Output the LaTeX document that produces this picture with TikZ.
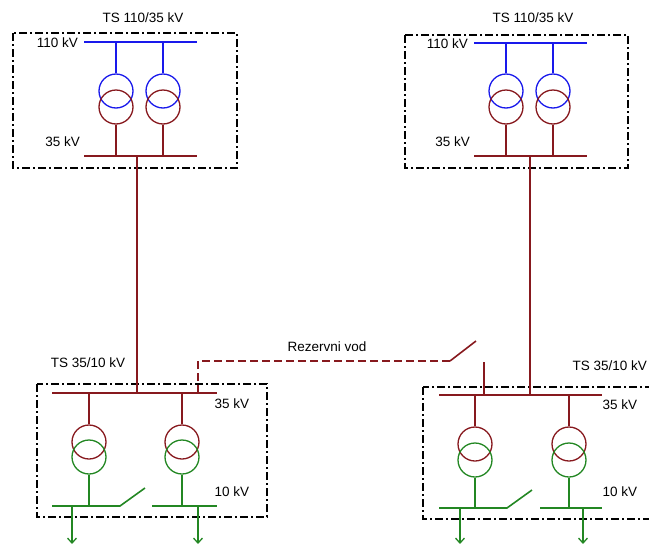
\documentclass[tikz,border=0pt]{standalone}
\usepackage{fontspec}
\setmainfont{Liberation Sans}
\usetikzlibrary{arrows.meta}
\definecolor{hvblue}{RGB}{25,25,235}
\definecolor{mvred}{RGB}{135,25,30}
\definecolor{lvgreen}{RGB}{35,135,35}
\begin{document}
\begin{tikzpicture}[x=1pt,y=-1pt,
  box/.style={draw=black,line width=1.3pt,dash pattern=on 8pt off 3pt on 2pt off 3pt},
  hv/.style={draw=hvblue,line width=1.6pt},
  mv/.style={draw=mvred,line width=1.6pt},
  lv/.style={draw=lvgreen,line width=1.6pt},
  wind/.style={circle,line width=1.3pt,minimum size=34pt,inner sep=0pt},
  lbl/.style={font=\fontsize{13.5}{13.5}\selectfont,inner sep=0pt},
  feeder/.style={lv,-{Straight Barb[length=5pt,width=9pt,line width=1.3pt]}},
  reserve/.style={mv,dash pattern=on 8pt off 4pt}]
\useasboundingbox (0,0) rectangle (649,544);

% ---------- TS 110/35 kV left ----------
\draw[box] (13,33) rectangle (237,168);
\node[lbl] (tA) at (143,18) {TS 110/35 kV};
\coordinate (AhL) at (84,42); \coordinate (AhR) at (197,42);
\coordinate (AmL) at (84,156); \coordinate (AmR) at (197,156);
\draw[hv] (AhL) -- (AhR);
\draw[mv] (AmL) -- (AmR);
\node[lbl,anchor=east] (lA110) at (78,43) {110 kV};
\node[lbl,anchor=east] (lA35) at (80,142) {35 kV};
\foreach \n/\x in {A1/116,A2/163}{
  \node[wind,draw=hvblue] (\n u) at (\x,91) {};
  \node[wind,draw=mvred] (\n d) at (\x,107) {};
  \draw[hv] (\n u.north |- AhL) -- (\n u.north);
  \draw[mv] (\n d.south) -- (\n d.south |- AmL);
}

% ---------- TS 110/35 kV right ----------
\draw[box] (405,35) rectangle (628,168);
\node[lbl] (tB) at (533,18) {TS 110/35 kV};
\coordinate (BhL) at (474,43); \coordinate (BhR) at (587,43);
\coordinate (BmL) at (474,156); \coordinate (BmR) at (587,156);
\draw[hv] (BhL) -- (BhR);
\draw[mv] (BmL) -- (BmR);
\node[lbl,anchor=east] (lB110) at (468,44) {110 kV};
\node[lbl,anchor=east] (lB35) at (470,142) {35 kV};
\foreach \n/\x in {B1/506,B2/553}{
  \node[wind,draw=hvblue] (\n u) at (\x,91) {};
  \node[wind,draw=mvred] (\n d) at (\x,107) {};
  \draw[hv] (\n u.north |- BhL) -- (\n u.north);
  \draw[mv] (\n d.south) -- (\n d.south |- BmL);
}

% ---------- TS 35/10 kV left ----------
\draw[box] (37,384) rectangle (267,517);
\node[lbl] (tC) at (88,363) {TS 35/10 kV};
\coordinate (CmL) at (52,393); \coordinate (CmR) at (217,393);
\draw[mv] (CmL) -- (CmR);
\coordinate (ClL) at (52,506); \coordinate (ClS) at (120,506);
\coordinate (ClK) at (145,488);
\coordinate (ClM) at (152,506); \coordinate (ClR) at (217,506);
\draw[lv] (ClL) -- (ClS) -- (ClK);
\draw[lv] (ClM) -- (ClR);
\node[lbl] (lC35) at (232,404) {35 kV};
\node[lbl] (lC10) at (232,492) {10 kV};
\foreach \n/\x in {C1/89,C2/182}{
  \node[wind,draw=mvred] (\n u) at (\x,442) {};
  \node[wind,draw=lvgreen] (\n d) at (\x,457) {};
  \draw[mv] (\n u.north |- CmL) -- (\n u.north);
  \draw[lv] (\n d.south) -- (\n d.south |- ClL);
}
\coordinate (Cf1) at (72,506); \coordinate (Cf1e) at (72,544);
\coordinate (Cf2) at (198,506); \coordinate (Cf2e) at (198,544);
\draw[feeder] (Cf1) -- (Cf1e);
\draw[feeder] (Cf2) -- (Cf2e);

% ---------- TS 35/10 kV right ----------
\draw[box] (423,387) rectangle (662,519);
\node[lbl,anchor=east] (tD) at (647,366) {TS 35/10 kV};
\coordinate (DmL) at (439,395); \coordinate (DmR) at (602,395);
\draw[mv] (DmL) -- (DmR);
\coordinate (DlL) at (439,508); \coordinate (DlS) at (507,508);
\coordinate (DlK) at (532,490);
\coordinate (DlM) at (540,508); \coordinate (DlR) at (602,508);
\draw[lv] (DlL) -- (DlS) -- (DlK);
\draw[lv] (DlM) -- (DlR);
\node[lbl] (lD35) at (620,405) {35 kV};
\node[lbl] (lD10) at (620,492) {10 kV};
\foreach \n/\x in {D1/475,D2/569}{
  \node[wind,draw=mvred] (\n u) at (\x,444) {};
  \node[wind,draw=lvgreen] (\n d) at (\x,460) {};
  \draw[mv] (\n u.north |- DmL) -- (\n u.north);
  \draw[lv] (\n d.south) -- (\n d.south |- DlL);
}
\coordinate (Df1) at (460,508); \coordinate (Df1e) at (460,544);
\coordinate (Df2) at (583,508); \coordinate (Df2e) at (583,544);
\draw[feeder] (Df1) -- (Df1e);
\draw[feeder] (Df2) -- (Df2e);

% ---------- 35 kV lines ----------
\coordinate (AmT) at (137,156); \coordinate (CmT) at (137,393);
\draw[mv] (AmT) -- (CmT);
\coordinate (BmT) at (530,156); \coordinate (DmT) at (530,395);
\draw[mv] (BmT) -- (DmT);

% ---------- reserve line ----------
\coordinate (RvA) at (198,393); \coordinate (RvB) at (198,361);
\coordinate (RvC) at (450,361); \coordinate (RvK) at (476,341);
\coordinate (RvD) at (484,362); \coordinate (RvE) at (484,395);
\draw[reserve] (RvA) -- (RvB) -- (RvC);
\draw[mv] (RvC) -- (RvK);
\draw[mv] (RvD) -- (RvE);
\node[lbl] (lR) at (327,347) {Rezervni vod};
\end{tikzpicture}
\end{document}
